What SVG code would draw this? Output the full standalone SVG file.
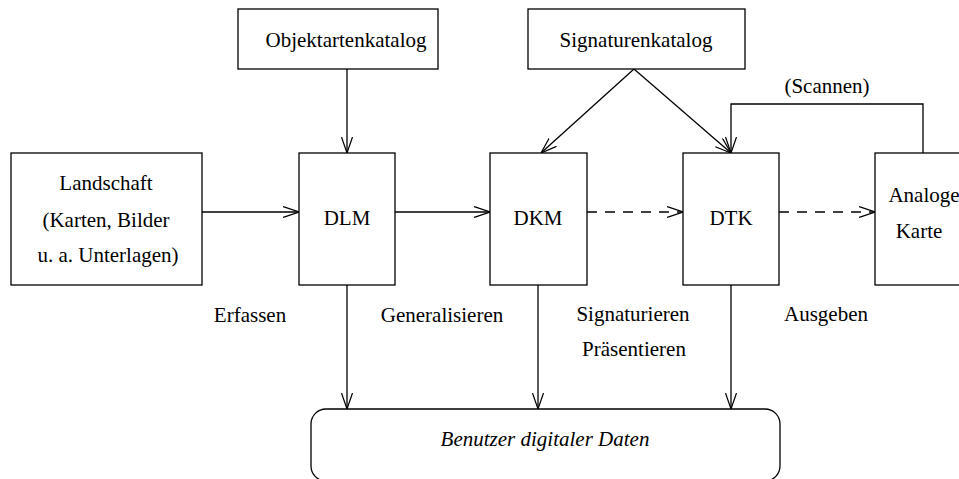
<svg xmlns="http://www.w3.org/2000/svg" width="959" height="479" viewBox="0 0 959 479">
  <defs>
    <marker id="open" viewBox="0 0 16 12" refX="16" refY="6" markerWidth="16" markerHeight="12" markerUnits="userSpaceOnUse" orient="auto">
      <path d="M0,0.5 L16,6 L0,11.5" fill="none" stroke="#000" stroke-width="1.2"/>
    </marker>
  </defs>
  <style>
    .box { fill: #fff; stroke: #000; stroke-width: 1.3; }
    .t { font-family: "Liberation Serif", "Times New Roman", serif; font-size: 21px; fill: #000; text-anchor: middle; }
    .ti { font-style: italic; }
    .c { fill: none; stroke: #000; stroke-width: 1.3; marker-end: url(#open); }
    .d { stroke-dasharray: 10 8; }
  </style>
  <rect width="959" height="479" fill="#fff"/>

  <g id="connectors">
    <line class="c" x1="347" y1="69" x2="347" y2="153"/>
    <line class="c" x1="634" y1="69" x2="541" y2="153"/>
    <line class="c" x1="634" y1="69" x2="731" y2="153"/>
    <polyline class="c" points="923,153 923,104 731,104 731,153"/>
    <line class="c" x1="202" y1="212" x2="299" y2="212"/>
    <line class="c" x1="395" y1="212" x2="490" y2="212"/>
    <line class="c d" x1="587" y1="212" x2="683" y2="212"/>
    <line class="c d" x1="779" y1="212" x2="875" y2="212"/>
    <line class="c" x1="347" y1="285" x2="347" y2="409"/>
    <line class="c" x1="538" y1="285" x2="538" y2="409"/>
    <line class="c" x1="731" y1="285" x2="731" y2="409"/>
  </g>

  <g id="objektartenkatalog">
    <rect class="box" x="238" y="9" width="200" height="60"/>
    <text class="t" x="346" y="47">Objektartenkatalog</text>
  </g>
  <g id="signaturenkatalog">
    <rect class="box" x="528" y="9" width="217" height="60"/>
    <text class="t" x="636" y="47">Signaturenkatalog</text>
  </g>
  <g id="landschaft">
    <rect class="box" x="11" y="153" width="191" height="132"/>
    <text class="t" x="106" y="190">Landschaft</text>
    <text class="t" x="106" y="227">(Karten, Bilder</text>
    <text class="t" x="108" y="262">u. a. Unterlagen)</text>
  </g>
  <g id="dlm">
    <rect class="box" x="299" y="153" width="96" height="132"/>
    <text class="t" x="347" y="225">DLM</text>
  </g>
  <g id="dkm">
    <rect class="box" x="490" y="153" width="97" height="132"/>
    <text class="t" x="538" y="225">DKM</text>
  </g>
  <g id="dtk">
    <rect class="box" x="683" y="153" width="96" height="132"/>
    <text class="t" x="731" y="225">DTK</text>
  </g>
  <g id="analoge-karte">
    <rect class="box" x="875" y="153" width="96" height="132"/>
    <text class="t" x="924" y="202">Analoge</text>
    <text class="t" x="919" y="238">Karte</text>
  </g>
  <g id="benutzer">
    <rect class="box" x="311" y="409" width="469" height="72" rx="15" ry="15"/>
    <text class="t ti" x="545" y="446">Benutzer digitaler Daten</text>
  </g>

  <g id="labels">
    <text class="t" x="827" y="93">(Scannen)</text>
    <text class="t" x="250" y="322">Erfassen</text>
    <text class="t" x="442" y="322">Generalisieren</text>
    <text class="t" x="633" y="321">Signaturieren</text>
    <text class="t" x="634" y="356">Präsentieren</text>
    <text class="t" x="826" y="321">Ausgeben</text>
  </g>
</svg>
